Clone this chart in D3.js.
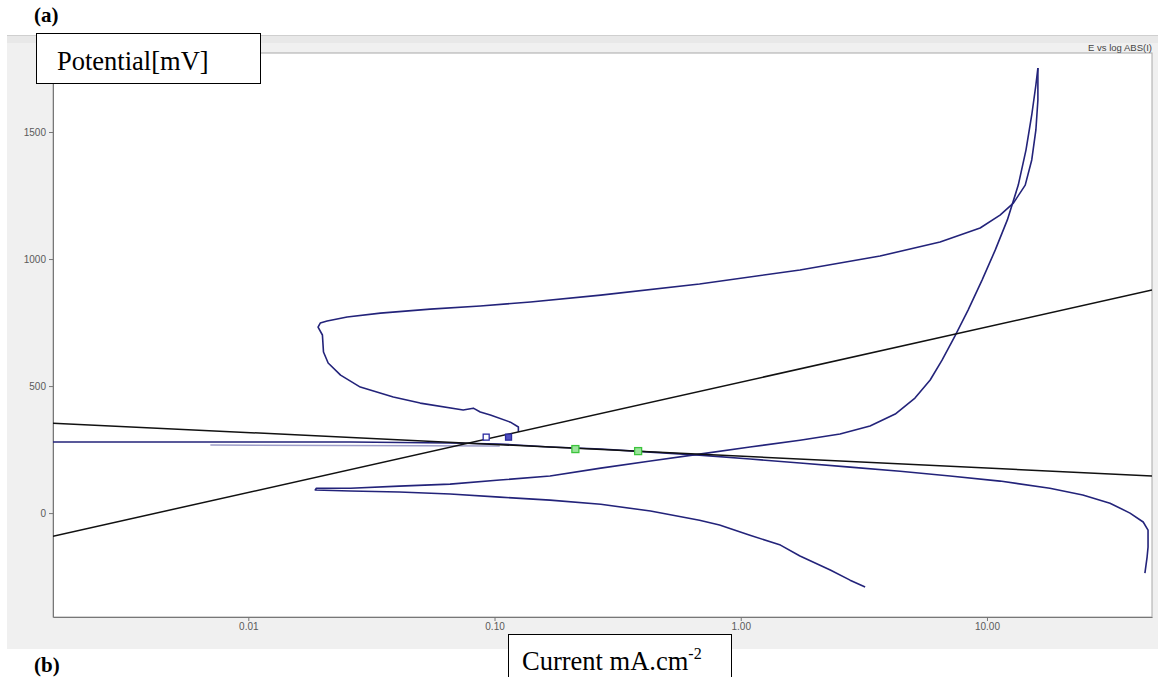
<!DOCTYPE html>
<html>
<head>
<meta charset="utf-8">
<script src="https://cdn.jsdelivr.net/npm/d3@7/dist/d3.min.js"></script>
<style>
  html, body { margin: 0; padding: 0; background: #ffffff; }
  svg { display: block; }
</style>
</head>
<body>
<svg id="chart" width="1158" height="677"></svg>
<script>
// ---------------- DATA (current in mA.cm-2, potential in mV) ----------------
const xTicks = [0.01, 0.1, 1, 10];
const xTickLabels = ["0.01", "0.10", "1.00", "10.00"];
const yTicks = [0, 500, 1000, 1500];

// Sample 1: forward scan (cathodic branch then anodic branch)
const scan1Current = [3.20, 2.78, 2.31, 1.74, 1.45, 1.09, 0.82, 0.68, 0.43, 0.27, 0.168, 0.105, 0.066, 0.041, 0.026, 0.0187,
  0.0189, 0.026, 0.041, 0.066, 0.105, 0.168, 0.27, 0.43, 0.68, 1.09, 1.74, 2.53, 3.35, 4.24, 5.10, 5.88, 6.57, 7.41, 8.38, 9.55, 10.8, 12.1, 13.4, 14.4, 15.2, 15.8, 16.1];
const scan1Potential = [-291, -264, -224, -169, -126, -87, -47, -28, 8, 35, 51, 63, 75, 83, 87, 91,
  98, 98, 106, 114, 130, 146, 177, 205, 232, 260, 287, 311, 343, 390, 453, 524, 602, 697, 799, 917, 1035, 1154, 1291, 1429, 1567, 1685, 1752];

// Sample 1: reverse scan (hysteresis loop)
const reverseCurrent = [16.1, 16.1, 15.8, 15.2, 14.3, 12.8, 11.3, 9.38, 6.45, 3.68, 1.74, 0.68, 0.27, 0.140, 0.0875, 0.0548, 0.0344, 0.0252, 0.0209, 0.0196,
  0.0192, 0.0200, 0.0202, 0.0211, 0.0237, 0.0285, 0.0388, 0.0499, 0.0746, 0.0820, 0.0875, 0.0962, 0.116, 0.125, 0.125];
const reversePotential = [1752, 1626, 1508, 1390, 1291, 1220, 1173, 1122, 1067, 1012, 957, 902, 858, 831, 815, 803, 787, 772, 756, 748,
  732, 701, 634, 591, 543, 496, 457, 433, 406, 413, 398, 386, 358, 339, 319];

// Sample 2 curve
const scan2Current = [0.00161, 0.00638, 0.026, 0.066, 0.105, 0.168, 0.27, 0.43, 0.68, 1.09, 1.74, 2.78, 4.44, 7.08, 11.3, 18.0, 24.5, 31.6, 38.1, 43.1, 45.1, 45.1, 44.7, 43.8];
const scan2Potential = [280, 280, 280, 276, 272, 260, 252, 240, 228, 213, 197, 181, 165, 146, 126, 98, 71, 39, 0, -35, -67, -134, -173, -236];

// Faint segment under sample 2
const faintCurrent = [0.00701, 0.105];
const faintPotential = [268, 264];

// Tafel fit lines
const tafelCurrent = [0.00161, 46.8];
const tafelCathodicPotential = [354, 146];
const tafelAnodicPotential = [-91, 878];

// Fit markers
const blueMarkerCurrent = [0.0925, 0.114];
const blueMarkerPotential = [299, 299];
const greenMarkerCurrent = [0.213, 0.383];
const greenMarkerPotential = [252, 244];

// ---------------- DRAWING ----------------
const svg = d3.select("#chart");
const W = 1158, H = 677;
const plot = { left: 53, right: 1152, top: 53, bottom: 617 };

svg.append("rect").attr("x", 0).attr("y", 0).attr("width", W).attr("height", H).attr("fill", "#ffffff");

// gray panel
svg.append("rect").attr("x", 7).attr("y", 35).attr("width", W - 7).attr("height", 614).attr("fill", "#f0f0f0");
svg.append("line").attr("x1", 7).attr("x2", W).attr("y1", 35.5).attr("y2", 35.5).attr("stroke", "#cfcfcf");
svg.append("rect").attr("x", 7).attr("y", 36).attr("width", W - 7).attr("height", 7).attr("fill", "#e8e8e8");

const x = d3.scaleLog().domain([0.00161, 46.8]).range([plot.left, plot.right]);
const y = d3.scaleLinear().domain([-409, 1811]).range([plot.bottom, plot.top]);

svg.append("rect")
  .attr("x", plot.left).attr("y", plot.top)
  .attr("width", plot.right - plot.left).attr("height", plot.bottom - plot.top)
  .attr("fill", "#ffffff").attr("stroke", "#a8a8a8");

svg.append("text").attr("x", plot.right).attr("y", 50.5)
  .attr("text-anchor", "end")
  .attr("font-family", "Liberation Sans, Arial, sans-serif").attr("font-size", 9.5)
  .attr("fill", "#444").text("E vs log ABS(I)");

// axes
const xAxis = d3.axisBottom(x).tickValues(xTicks).tickFormat((d, i) => xTickLabels[i]).tickSize(4).tickSizeOuter(0);
const gx = svg.append("g").attr("transform", `translate(0,${plot.bottom})`).call(xAxis);
const yAxis = d3.axisLeft(y).tickValues(yTicks).tickFormat(d3.format("d")).tickSize(4).tickSizeOuter(0);
const gy = svg.append("g").attr("transform", `translate(${plot.left},0)`).call(yAxis);
[gx, gy].forEach(g => {
  g.select(".domain").attr("stroke", "#777");
  g.selectAll(".tick line").attr("stroke", "#777");
  g.selectAll(".tick text").attr("fill", "#5a5a5a").attr("font-size", 10)
    .attr("font-family", "Liberation Sans, Arial, sans-serif");
});
gx.selectAll(".tick text").attr("dy", "0.6em");

// clip
svg.append("clipPath").attr("id", "clip").append("rect")
  .attr("x", plot.left).attr("y", plot.top)
  .attr("width", plot.right - plot.left).attr("height", plot.bottom - plot.top);
const g = svg.append("g").attr("clip-path", "url(#clip)");

const line = d3.line().x(d => x(d[0])).y(d => y(d[1]));
const zip = (a, b) => a.map((v, i) => [v, b[i]]);
const navy = "#23237a";

g.append("path").datum(zip(faintCurrent, faintPotential)).attr("d", line)
  .attr("fill", "none").attr("stroke", "#9c9cc8").attr("stroke-width", 1.5);
g.append("path").datum(zip(scan2Current, scan2Potential)).attr("d", line)
  .attr("fill", "none").attr("stroke", navy).attr("stroke-width", 1.6).attr("stroke-linejoin", "round");
g.append("path").datum(zip(scan1Current, scan1Potential)).attr("d", line)
  .attr("fill", "none").attr("stroke", navy).attr("stroke-width", 1.6).attr("stroke-linejoin", "round");
g.append("path").datum(zip(reverseCurrent, reversePotential)).attr("d", line)
  .attr("fill", "none").attr("stroke", navy).attr("stroke-width", 1.6).attr("stroke-linejoin", "round");

// Tafel lines
g.append("path").datum(zip(tafelCurrent, tafelCathodicPotential)).attr("d", line)
  .attr("fill", "none").attr("stroke", "#111").attr("stroke-width", 1.5);
g.append("path").datum(zip(tafelCurrent, tafelAnodicPotential)).attr("d", line)
  .attr("fill", "none").attr("stroke", "#111").attr("stroke-width", 1.5);

// markers
g.selectAll(".bm").data(zip(blueMarkerCurrent, blueMarkerPotential)).enter().append("rect")
  .attr("x", d => x(d[0]) - 3).attr("y", d => y(d[1]) - 3).attr("width", 6).attr("height", 6)
  .attr("fill", (d, i) => i === 0 ? "#ffffff" : "#5050c0").attr("stroke", "#2a2aa0").attr("stroke-width", 1.3);
g.selectAll(".gm").data(zip(greenMarkerCurrent, greenMarkerPotential)).enter().append("rect")
  .attr("x", d => x(d[0]) - 3.5).attr("y", d => y(d[1]) - 3.5).attr("width", 7).attr("height", 7)
  .attr("fill", "#9be39b").attr("stroke", "#3cc43c").attr("stroke-width", 1.3);

// overlay labels
const serif = "Liberation Serif, Times New Roman, serif";
svg.append("text").attr("x", 34).attr("y", 22).attr("font-family", serif)
  .attr("font-size", 21).attr("font-weight", "bold").text("(a)");
svg.append("rect").attr("x", 36.5).attr("y", 33.5).attr("width", 224).attr("height", 50)
  .attr("fill", "#fff").attr("stroke", "#000").attr("stroke-width", 1);
svg.append("text").attr("x", 57).attr("y", 70).attr("font-family", serif)
  .attr("font-size", 26.5).text("Potential[mV]");

svg.append("text").attr("x", 34).attr("y", 672).attr("font-family", serif)
  .attr("font-size", 21).attr("font-weight", "bold").text("(b)");
svg.append("rect").attr("x", 508.5).attr("y", 634.5).attr("width", 223).attr("height", 60)
  .attr("fill", "#fff").attr("stroke", "#000").attr("stroke-width", 1);
const ct = svg.append("text").attr("x", 522).attr("y", 670).attr("font-family", serif).attr("font-size", 26.5);
ct.append("tspan").text("Current mA.cm");
ct.append("tspan").attr("dy", -11).attr("font-size", 16).text("-2");
</script>
</body>
</html>
